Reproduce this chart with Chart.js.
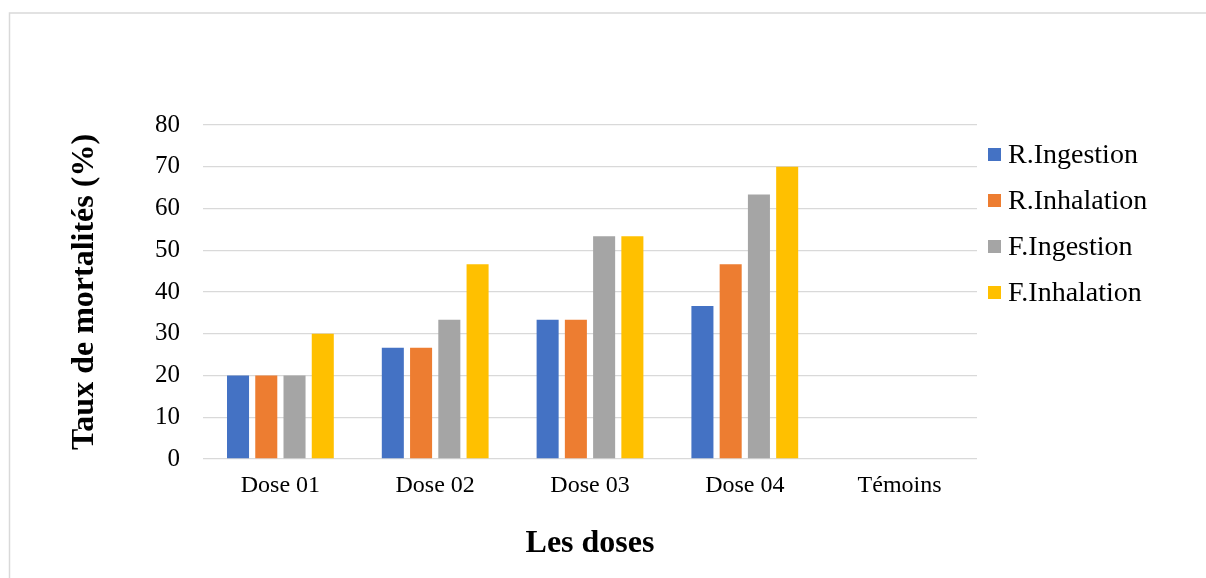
<!DOCTYPE html>
<html>
<head>
<meta charset="utf-8">
<script src="https://cdn.jsdelivr.net/npm/chart.js@4.4.1/dist/chart.umd.min.js"></script>
<style>
  html, body { margin: 0; padding: 0; background: #ffffff; }
  #wrap { width: 1206px; height: 578px; position: relative; }
</style>
</head>
<body>
<div id="wrap"><canvas id="chart" width="1206" height="578"></canvas></div>
<script>
// Categories (doses) and mortality rates (%) per series
const doses = ['Dose 01', 'Dose 02', 'Dose 03', 'Dose 04', 'Témoins'];
const rIngestion  = [20, 26.67, 33.33, 36.67, 0];
const rInhalation = [20, 26.67, 33.33, 46.67, 0];
const fIngestion  = [20, 33.33, 53.33, 63.33, 0];
const fInhalation = [30, 46.67, 53.33, 70, 0];
const seriesNames = ['R.Ingestion', 'R.Inhalation', 'F.Ingestion', 'F.Inhalation'];
const seriesColors = ['#4472C4', '#ED7D31', '#A5A5A5', '#FFC000'];
const yTicks = [0, 10, 20, 30, 40, 50, 60, 70, 80];

const SERIF = '"Liberation Serif", "Times New Roman", serif';
const GRID = '#d9d9d9';

// Light frame around the chart (top and left edges)
const framePlugin = {
  id: 'frame',
  beforeDraw(chart) {
    const ctx = chart.ctx;
    ctx.save();
    ctx.strokeStyle = GRID;
    ctx.lineWidth = 1.5;
    ctx.beginPath();
    ctx.moveTo(9.5, chart.height);
    ctx.lineTo(9.5, 13);
    ctx.lineTo(chart.width, 13);
    ctx.stroke();
    ctx.restore();
  }
};

// Legend on the right: square swatch + series label, one per row
const sideLegend = {
  id: 'sideLegend',
  afterDraw(chart) {
    const ctx = chart.ctx;
    const x0 = chart.chartArea.right + 11;
    const y0 = 154.5;
    const step = 46;
    const box = 13;
    ctx.save();
    ctx.font = '28px ' + SERIF;
    ctx.textBaseline = 'middle';
    ctx.textAlign = 'left';
    chart.data.datasets.forEach((ds, i) => {
      const y = y0 + i * step;
      ctx.fillStyle = ds.backgroundColor;
      ctx.fillRect(x0, y - box / 2, box, box);
      ctx.fillStyle = '#000000';
      ctx.fillText(ds.label, x0 + box + 7, y + 1);
    });
    ctx.restore();
  }
};

const seriesValues = [rIngestion, rInhalation, fIngestion, fInhalation];

new Chart(document.getElementById('chart'), {
  type: 'bar',
  data: {
    labels: doses,
    datasets: seriesValues.map((vals, i) => ({
      label: seriesNames[i],
      data: vals,
      backgroundColor: seriesColors[i],
      borderWidth: 0,
      categoryPercentage: 0.73,
      barPercentage: 0.78
    }))
  },
  options: {
    responsive: false,
    animation: false,
    devicePixelRatio: 1,
    layout: { padding: { left: 0, top: 125, right: 229, bottom: 0 } },
    plugins: {
      legend: { display: false },
      tooltip: { enabled: false }
    },
    scales: {
      x: {
        grid: { display: false, drawTicks: false },
        border: { display: false },
        ticks: {
          color: '#000000',
          font: { family: SERIF, size: 24 },
          padding: 12,
          maxRotation: 0
        },
        title: {
          display: true,
          text: 'Les doses',
          color: '#000000',
          font: { family: SERIF, size: 32, weight: 'bold' },
          padding: { top: 0, bottom: 15 }
        },
        afterFit(scale) { scale.height = 119; }
      },
      y: {
        min: 0,
        max: 80,
        afterBuildTicks(scale) { scale.ticks = yTicks.map(v => ({ value: v })); },
        grid: { color: GRID, lineWidth: 1.3, drawTicks: false },
        border: { display: false },
        ticks: {
          color: '#000000',
          font: { family: SERIF, size: 25 },
          padding: 23
        },
        title: {
          display: true,
          text: 'Taux de mortalités (%)',
          color: '#000000',
          font: { family: SERIF, size: 32, weight: 'bold' },
          padding: { top: 66, bottom: 0 }
        },
        afterFit(scale) { scale.width = 203; }
      }
    }
  },
  plugins: [framePlugin, sideLegend]
});
</script>
</body>
</html>
